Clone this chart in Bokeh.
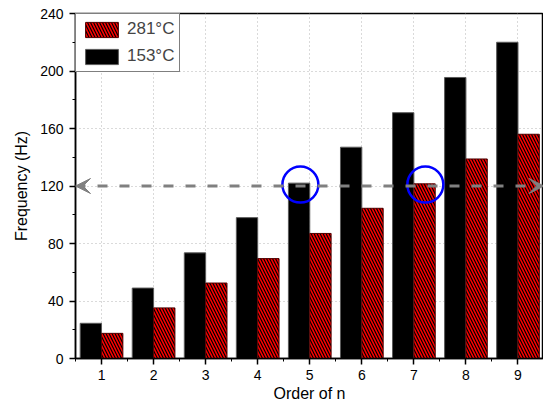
from bokeh.plotting import figure
from bokeh.models import (Range1d, FixedTicker, SingleIntervalTicker, Legend,
                          LegendItem, Arrow, VeeHead, ColumnDataSource)
from bokeh.transform import dodge
from bokeh.embed import file_html
from bokeh.resources import INLINE

# ---- data ----
orders = [1, 2, 3, 4, 5, 6, 7, 8, 9]
freq_153 = [24.5, 49.0, 73.5, 98.0, 122.0, 147.0, 171.0, 195.5, 220.0]
freq_281 = [17.5, 35.2, 52.5, 69.5, 87.0, 104.5, 121.5, 138.8, 156.0]
series_labels = ["281\u00b0C", "153\u00b0C"]
y_ticks_interval = 40
ref_freq = 120
circle_x = [4.82, 7.22]
circle_y = [121, 121]

FONT = "Liberation Sans"

src = ColumnDataSource(dict(n=orders, f153=freq_153, f281=freq_281))

p = figure(width=543, height=404, output_backend="svg", toolbar_location=None,
           x_range=Range1d(0.5, 9.49), y_range=Range1d(0, 240),
           min_border_left=75, min_border_right=0, min_border_top=13,
           min_border_bottom=46)
p.background_fill_color = "white"
p.border_fill_color = "white"
p.outline_line_color = "black"
p.outline_line_width = 1.5

bw = 0.41
r153 = p.vbar(x=dodge("n", -bw / 2, range=p.x_range), top="f153", width=bw,
              source=src, fill_color="black", line_color="#5a5a5a",
              line_width=1)
r281 = p.vbar(x=dodge("n", bw / 2, range=p.x_range), top="f281", width=bw,
              source=src, fill_color="#ff0000", line_color="#500000",
              line_width=1, hatch_pattern="\\", hatch_color="black",
              hatch_scale=6, hatch_weight=1.2)

# reference line with arrows
arrow = Arrow(x_start=min(orders) - 0.5, y_start=ref_freq,
              x_end=max(orders) + 0.5, y_end=ref_freq,
              line_color="#808080", line_width=3, line_dash="10 12",
              start=VeeHead(size=15, fill_color="#808080", line_color="#808080", line_width=1),
              end=VeeHead(size=15, fill_color="#808080", line_color="#808080", line_width=1))
p.add_layout(arrow)

p.scatter(x=circle_x, y=circle_y, marker="circle", size=36, fill_alpha=0,
          line_color="#0000ff", line_width=2.5)

# axes
minor_x = [o - 0.5 for o in orders] + [max(orders) + 0.5]
p.xaxis.ticker = FixedTicker(ticks=orders, minor_ticks=minor_x)
p.yaxis.ticker = SingleIntervalTicker(interval=y_ticks_interval, num_minor_ticks=2)
p.xgrid.ticker = FixedTicker(ticks=orders)

for ax in (p.xaxis[0], p.yaxis[0]):
    ax.axis_line_width = 1.5
    ax.axis_line_color = "black"
    ax.major_tick_in = 0
    ax.major_tick_out = 6
    ax.minor_tick_in = 0
    ax.minor_tick_out = 3
    ax.major_tick_line_width = 1.5
    ax.minor_tick_line_width = 1
    ax.major_label_text_font = FONT
    ax.major_label_text_font_size = "14px"
    ax.major_label_text_color = "black"
    ax.axis_label_text_font = FONT
    ax.axis_label_text_font_size = "16px"
    ax.axis_label_text_font_style = "normal"
    ax.axis_label_text_color = "black"

p.xaxis.axis_label = "Order of n"
p.yaxis.axis_label = "Frequency (Hz)"
p.xaxis.major_label_standoff = 5
p.xaxis.axis_label_standoff = 2
p.yaxis.major_label_standoff = 6
p.yaxis.axis_label_standoff = 7

p.grid.grid_line_color = "#b4b4b4"
p.grid.grid_line_dash = "1 3"
p.grid.grid_line_width = 1

legend = Legend(items=[LegendItem(label=series_labels[0], renderers=[r281]),
                       LegendItem(label=series_labels[1], renderers=[r153])],
                location="top_left", margin=0, padding=5, spacing=7,
                glyph_width=41, glyph_height=19, label_height=19,
                label_standoff=5, label_text_font=FONT,
                label_text_font_size="17px", border_line_color="black",
                border_line_width=1, background_fill_color="white",
                background_fill_alpha=1)
p.add_layout(legend)

open("out.html", "w").write(file_html(p, INLINE))
